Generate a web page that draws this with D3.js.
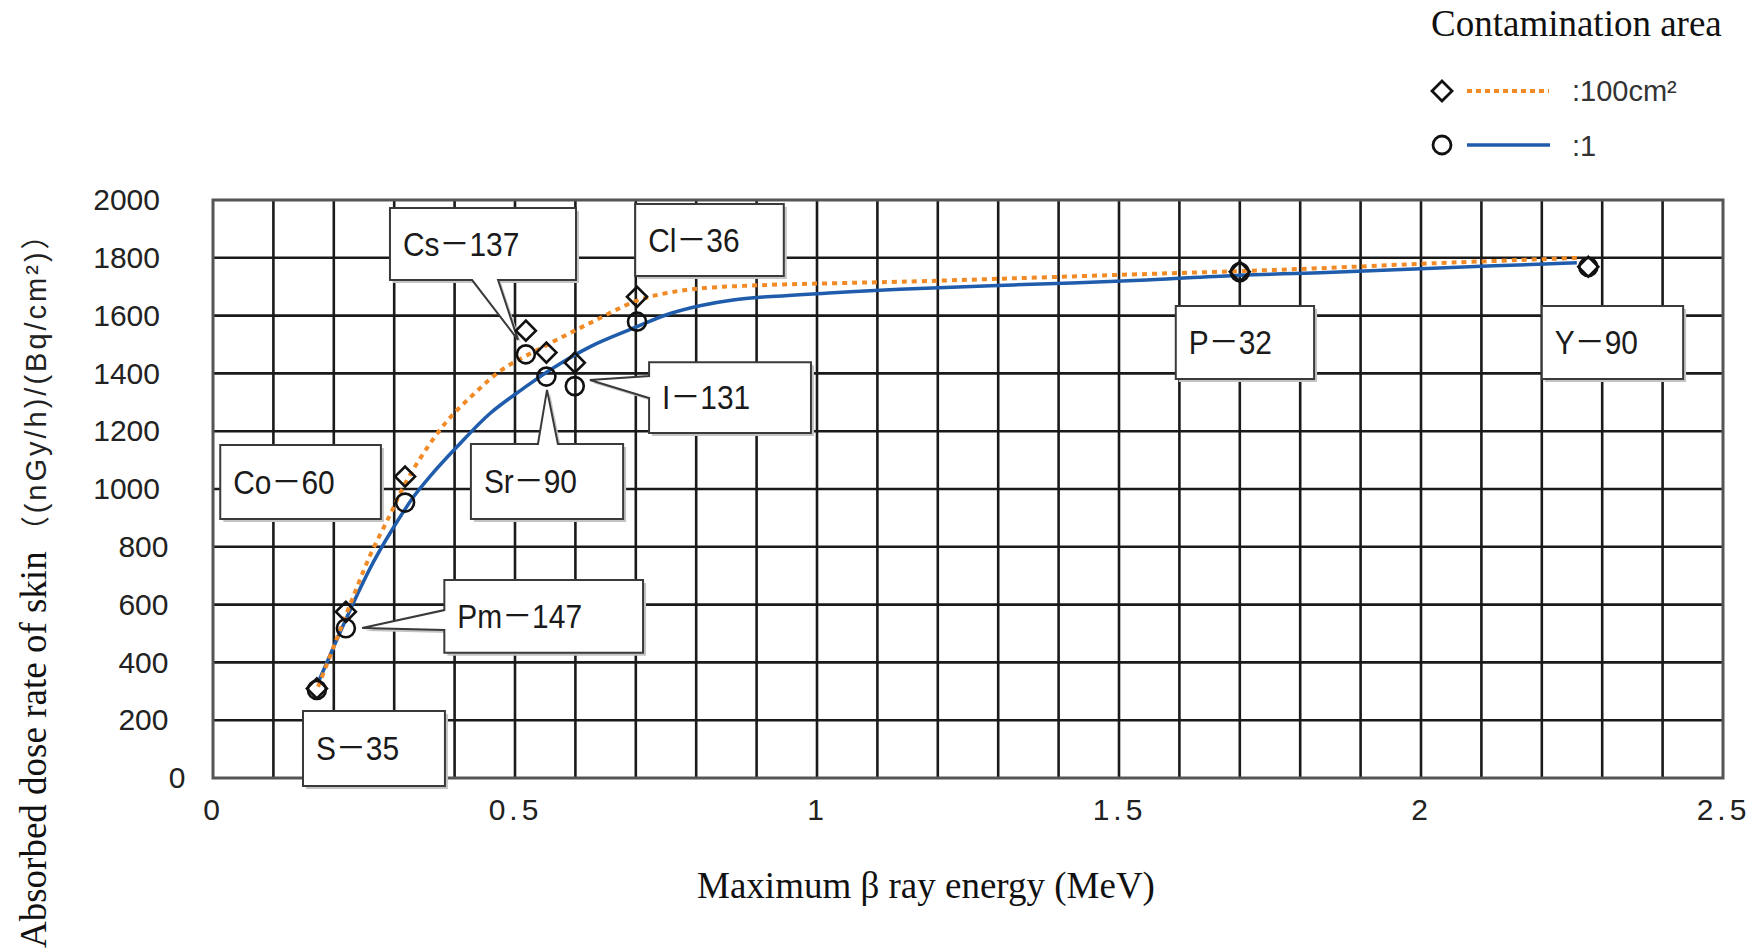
<!DOCTYPE html>
<html>
<head>
<meta charset="utf-8">
<script src="https://cdn.jsdelivr.net/npm/d3@7"></script>
<style>
  html, body { margin: 0; padding: 0; background: #fff; }
  svg { display: block; }
</style>
</head>
<body>
<svg id="chart"></svg>
<script>
// measured nuclides: max beta energy (MeV) and skin dose rate for the two contamination areas
const nuclides = ['S－35', 'Pm－147', 'Co－60', 'Cs－137', 'Sr－90', 'I－131', 'Cl－36', 'P－32', 'Y－90'];
const energy   = [0.172, 0.220, 0.318, 0.518, 0.552, 0.599, 0.702, 1.700, 2.277];
const dose100  = [310, 575, 1043, 1548, 1472, 1437, 1665, 1752, 1769];
const dose1    = [305, 518, 953, 1466, 1389, 1356, 1579, 1750, 1768];

// fitted curves
const curve100X = [0.174, 0.199, 0.227, 0.260, 0.293, 0.318, 0.348, 0.387, 0.431, 0.478, 0.547, 0.624, 0.700, 0.751, 0.806, 0.917, 1.027, 1.137, 1.325, 1.546, 1.700, 1.833, 2.020, 2.263];
const curve100Y = [316, 450, 600, 770, 910, 1018, 1122, 1234, 1327, 1412, 1492, 1574, 1650, 1678, 1694, 1706, 1712, 1717, 1729, 1744, 1754, 1764, 1781, 1800];
const curve1X   = [0.175, 0.232, 0.265, 0.293, 0.332, 0.359, 0.404, 0.459, 0.514, 0.558, 0.624, 0.698, 0.751, 0.806, 0.861, 0.917, 1.027, 1.137, 1.325, 1.546, 1.700, 1.833, 2.020, 2.258];
const curve1Y   = [335, 604, 745, 847, 973, 1043, 1146, 1262, 1348, 1412, 1492, 1558, 1603, 1634, 1654, 1665, 1679, 1691, 1706, 1723, 1740, 1748, 1764, 1783];

const xTicks = [0, 0.5, 1, 1.5, 2, 2.5];
const yTicks = [0, 200, 400, 600, 800, 1000, 1200, 1400, 1600, 1800, 2000];

const legendTitle = 'Contamination area';
const legendLabels = [':100cm²', ':1'];

// callout boxes, in data units: [x0, x1, yTop, yBottom], optional pointer wedge
const callouts = [
  { name: 'Cs－137', box: [0.293, 0.601, 1972, 1723], wedge: { side: 'bottom', a: 0.429, b: 0.472, tip: [0.505, 1516] } },
  { name: 'Cl－36',  box: [0.699, 0.945, 1986, 1737] },
  { name: 'I－131',  box: [0.722, 0.990, 1439, 1194], wedge: { side: 'left', a: 1391, b: 1315, tip: [0.624, 1377] } },
  { name: 'Co－60',  box: [0.012, 0.278, 1152, 896] },
  { name: 'Sr－90',  box: [0.427, 0.679, 1156, 896], wedge: { side: 'top', a: 0.538, b: 0.571, tip: [0.553, 1343] } },
  { name: 'Pm－147', box: [0.383, 0.712, 685, 433], wedge: { side: 'left', a: 581, b: 512, tip: [0.247, 519] } },
  { name: 'S－35',   box: [0.149, 0.384, 232, -28] },
  { name: 'P－32',   box: [1.594, 1.823, 1633, 1381] },
  { name: 'Y－90',   box: [2.200, 2.434, 1633, 1381] }
];

const W = 1760, H = 952;
const m = { top: 200, right: 37, bottom: 174, left: 213 };
const SERIF = "'Liberation Serif', 'Times New Roman', serif";
const SANS = "'Liberation Sans', Arial, 'Noto Sans CJK JP', sans-serif";
const ORANGE = '#f28a26', BLUE = '#1f5cab';

const svg = d3.select('#chart').attr('width', W).attr('height', H);
svg.append('rect').attr('width', W).attr('height', H).attr('fill', '#fff');

const x = d3.scaleLinear().domain([0, 2.5]).range([m.left, W - m.right]);
const y = d3.scaleLinear().domain([0, 2000]).range([H - m.bottom, m.top]);

// grid
const grid = svg.append('g');
x.ticks(25).slice(1, -1).forEach(t => {
  grid.append('line').attr('x1', x(t)).attr('x2', x(t)).attr('y1', y(0)).attr('y2', y(2000))
    .attr('stroke', '#1a1a1a').attr('stroke-width', 2.6);
});
y.ticks(10).slice(1, -1).forEach(t => {
  grid.append('line').attr('x1', x(0)).attr('x2', x(2.5)).attr('y1', y(t)).attr('y2', y(t))
    .attr('stroke', '#1a1a1a').attr('stroke-width', 2.6);
});
svg.append('rect').attr('x', x(0)).attr('y', y(2000))
  .attr('width', x(2.5) - x(0)).attr('height', y(0) - y(2000))
  .attr('fill', 'none').attr('stroke', '#555').attr('stroke-width', 3);

// axes
const xAxis = svg.append('g').attr('transform', `translate(0,${y(0)})`)
  .call(d3.axisBottom(x).tickValues(xTicks).tickSize(0).tickPadding(21).tickFormat(d3.format('')));
xAxis.select('.domain').remove();
xAxis.selectAll('text').style('font-family', SANS).style('font-size', '30px')
  .style('fill', '#222').style('letter-spacing', '4px');

const yAxis = svg.append('g').attr('transform', `translate(${m.left},0)`)
  .call(d3.axisLeft(y).tickValues(yTicks).tickSize(0).tickFormat(d3.format('')));
yAxis.select('.domain').remove();
yAxis.selectAll('text').style('font-family', SANS).style('font-size', '30px').style('fill', '#222')
  .attr('x', d => -53 + (4 - String(d).length) * 8.5);

// axis titles
svg.append('text').attr('x', 926).attr('y', 898).attr('text-anchor', 'middle')
  .style('font-family', SERIF).style('font-size', '37px').style('fill', '#111')
  .text('Maximum β ray energy (MeV)');

const yTitle = svg.append('text').attr('transform', 'translate(46,948) rotate(-90)');
yTitle.append('tspan').style('font-family', SERIF).style('font-size', '37px').style('fill', '#111')
  .text('Absorbed dose rate of skin');
yTitle.append('tspan').attr('dx', 6).style('font-family', SANS).style('font-size', '29px')
  .style('letter-spacing', '3px').style('fill', '#222')
  .text('（(nGy/h)/(Bq/cm²)）');

// callouts
function calloutPath(c) {
  const [x0, x1, yt, yb] = [x(c.box[0]), x(c.box[1]), y(c.box[2]), y(c.box[3])];
  let pts = [[x0, yt], [x1, yt], [x1, yb], [x0, yb]];
  const w = c.wedge;
  if (w) {
    const tip = [x(w.tip[0]), y(w.tip[1])];
    if (w.side === 'bottom') pts = [[x0, yt], [x1, yt], [x1, yb], [x(w.b), yb], tip, [x(w.a), yb], [x0, yb]];
    if (w.side === 'top') pts = [[x0, yt], [x(w.a), yt], tip, [x(w.b), yt], [x1, yt], [x1, yb], [x0, yb]];
    if (w.side === 'left') pts = [[x0, yt], [x1, yt], [x1, yb], [x0, yb], [x0, y(w.b)], tip, [x0, y(w.a)]];
  }
  return d3.line()(pts) + 'Z';
}
const cg = svg.append('g');
callouts.forEach(c => {
  const d = calloutPath(c);
  cg.append('path').attr('d', d).attr('transform', 'translate(3,3)').attr('fill', '#c4c4c4');
  cg.append('path').attr('d', d).attr('fill', '#fff').attr('stroke', '#3a3a3a').attr('stroke-width', 2)
    .attr('stroke-linejoin', 'miter');
  const tx = x(c.box[0]) + 13, ty = (y(c.box[2]) + y(c.box[3])) / 2;
  cg.append('text').attr('transform', `translate(${tx},${ty}) scale(0.88,1)`)
    .attr('dominant-baseline', 'central')
    .style('font-family', SANS).style('font-size', '34px').style('fill', '#1a1a1a')
    .text(c.name);
});

// curves
const line = d3.line().x(d => x(d[0])).y(d => y(d[1])).curve(d3.curveCatmullRom.alpha(0.5));
svg.append('path').datum(curve1X.map((v, i) => [v, curve1Y[i]]))
  .attr('fill', 'none').attr('stroke', BLUE).attr('stroke-width', 3.5).attr('d', line);
svg.append('path').datum(curve100X.map((v, i) => [v, curve100Y[i]]))
  .attr('fill', 'none').attr('stroke', ORANGE).attr('stroke-width', 4)
  .attr('stroke-dasharray', '5,5').attr('d', line);

// markers
const diamond = d3.symbol().type(d3.symbolSquare).size(200);
const mk = svg.append('g');
energy.forEach((e, i) => {
  mk.append('path').attr('d', diamond())
    .attr('transform', `translate(${x(e)},${y(dose100[i])}) rotate(45)`)
    .attr('fill', 'none').attr('stroke', '#111').attr('stroke-width', 2.6);
  mk.append('circle').attr('cx', x(e)).attr('cy', y(dose1[i])).attr('r', 9)
    .attr('fill', 'none').attr('stroke', '#111').attr('stroke-width', 2.6);
});

// legend
const lg = svg.append('g');
lg.append('text').attr('x', 1431).attr('y', 36)
  .style('font-family', SERIF).style('font-size', '37px').style('fill', '#111').text(legendTitle);
lg.append('path').attr('d', diamond()).attr('transform', 'translate(1442,91) rotate(45)')
  .attr('fill', 'none').attr('stroke', '#111').attr('stroke-width', 2.8);
lg.append('line').attr('x1', 1467).attr('x2', 1549).attr('y1', 91).attr('y2', 91)
  .attr('stroke', ORANGE).attr('stroke-width', 4).attr('stroke-dasharray', '5,4');
lg.append('circle').attr('cx', 1442).attr('cy', 145).attr('r', 9)
  .attr('fill', 'none').attr('stroke', '#111').attr('stroke-width', 2.8);
lg.append('line').attr('x1', 1467).attr('x2', 1550).attr('y1', 145).attr('y2', 145)
  .attr('stroke', BLUE).attr('stroke-width', 3.5);
legendLabels.forEach((t, i) => {
  lg.append('text').attr('x', 1572).attr('y', 91 + i * 55).attr('dominant-baseline', 'central')
    .style('font-family', SANS).style('font-size', '29px').style('fill', '#333').text(t);
});
</script>
</body>
</html>
